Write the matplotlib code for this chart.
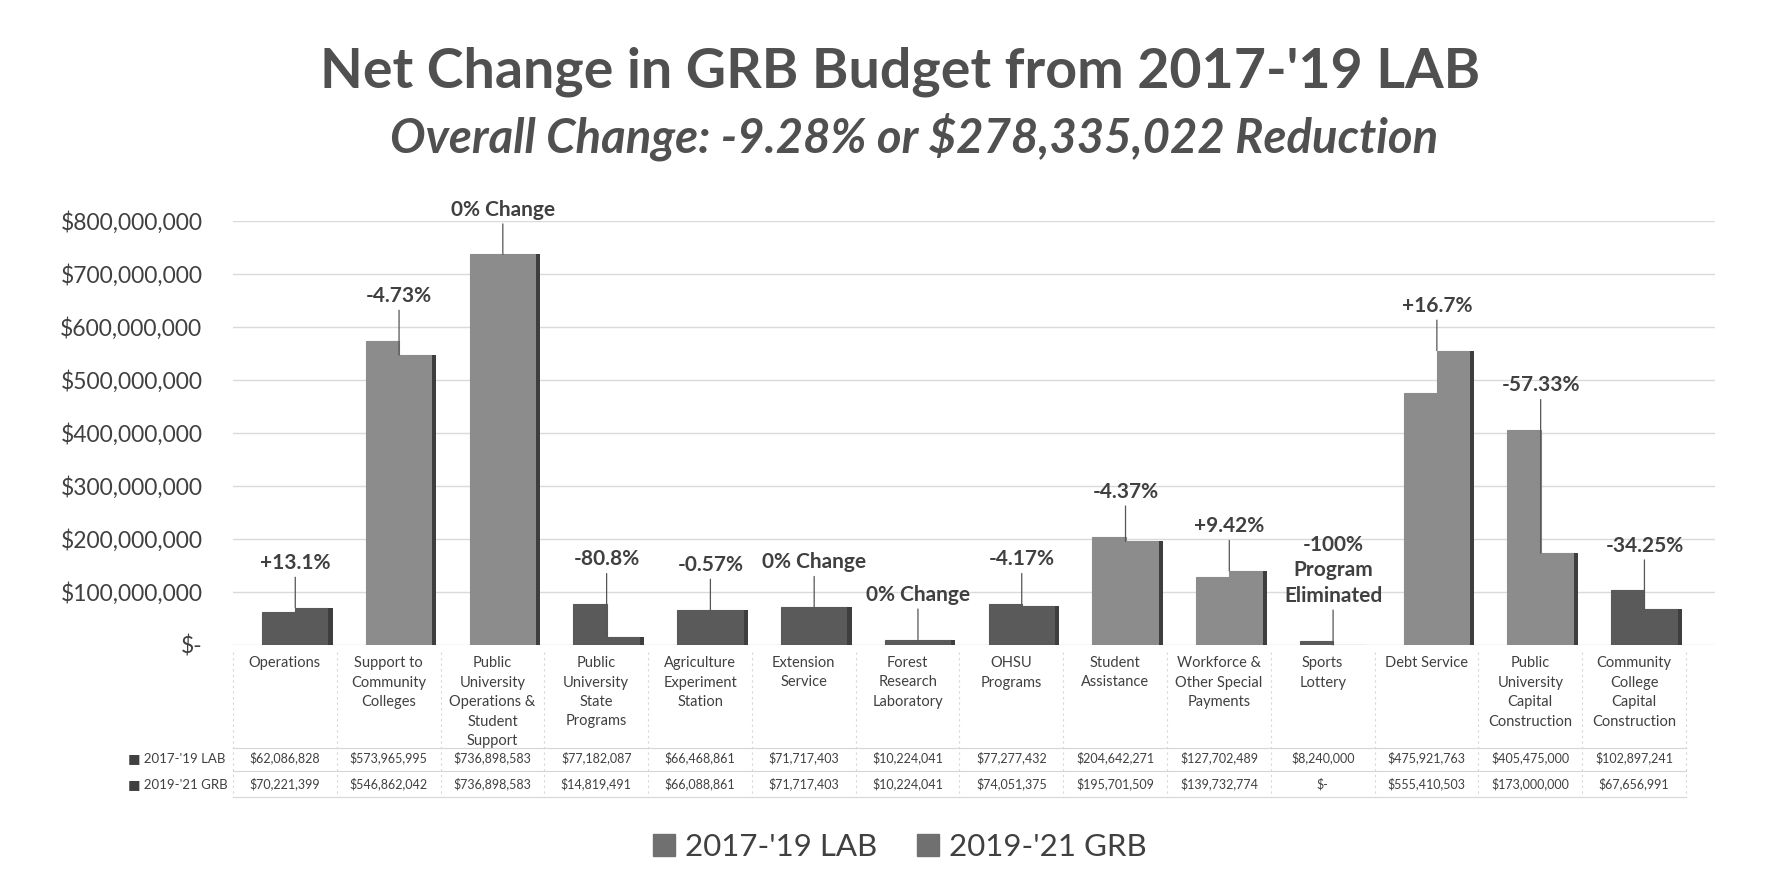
import matplotlib
matplotlib.use("Agg")
import matplotlib.pyplot as plt
import matplotlib.transforms as mtransforms
from matplotlib.patches import Patch
import numpy as np

plt.rcParams['font.family'] = ['Lato', 'DejaVu Sans']

categories = ["Operations", "Support to\nCommunity\nColleges",
              "Public\nUniversity\nOperations &\nStudent\nSupport",
              "Public\nUniversity\nState\nPrograms",
              "Agriculture\nExperiment\nStation", "Extension\nService",
              "Forest\nResearch\nLaboratory", "OHSU\nPrograms",
              "Student\nAssistance", "Workforce &\nOther Special\nPayments",
              "Sports\nLottery", "Debt Service",
              "Public\nUniversity\nCapital\nConstruction",
              "Community\nCollege\nCapital\nConstruction"]
lab_2017_19 = [62086828, 573965995, 736898583, 77182087, 66468861, 71717403,
               10224041, 77277432, 204642271, 127702489, 8240000, 475921763,
               405475000, 102897241]
grb_2019_21 = [70221399, 546862042, 736898583, 14819491, 66088861, 71717403,
               10224041, 74051375, 195701509, 139732774, 0, 555410503,
               173000000, 67656991]
change_labels = ["+13.1%", "-4.73%", "0% Change", "-80.8%", "-0.57%",
                 "0% Change", "0% Change", "-4.17%", "-4.37%", "+9.42%",
                 "-100%\nProgram\nEliminated", "+16.7%", "-57.33%", "-34.25%"]
series_names = ["2017-'19 LAB", "2019-'21 GRB"]
yticks = [0, 100e6, 200e6, 300e6, 400e6, 500e6, 600e6, 700e6, 800e6]

# light vs dark shading of each category, as in the scan
LIGHT, DARK = "#8c8c8c", "#5a5a5a"
shade = [DARK, LIGHT, LIGHT, DARK, DARK, DARK, DARK, DARK, LIGHT, LIGHT,
         DARK, LIGHT, LIGHT, DARK]
TXT = "#404040"


def money(v):
    return "$-" if v == 0 else "${:,.0f}".format(v)


W, H = 1775, 891
fig = plt.figure(figsize=(W / 100, H / 100), dpi=100)
ax = fig.add_axes([233 / W, 1 - 645 / H, (1715 - 233) / W, 424 / H])

x = np.arange(len(categories))
bw = 0.32
shift = 0.1
for i in x:
    for k, vals in enumerate([lab_2017_19, grb_2019_21]):
        ax.bar(i + shift + (k - 0.5) * bw, vals[i], width=bw, color=shade[i],
               edgecolor=shade[i], linewidth=0.8, zorder=3)
    # thin darker side for a touch of depth
    ax.bar(i + shift + bw, grb_2019_21[i], width=0.04, align="edge",
           color="#3e3e3e", zorder=3)

ax.set_xlim(-0.5, 13.78)
ax.set_ylim(0, 800e6)
ax.set_yticks(yticks)
ax.set_yticklabels([money(v) for v in yticks], fontsize=16.5, color=TXT)
ax.tick_params(axis="y", length=0, pad=22)
ax.set_xticks([])
ax.grid(axis="y", color="#dadada", linewidth=1, zorder=0)
for s in ax.spines.values():
    s.set_visible(False)

# change annotations with leader lines
for i in x:
    top = max(lab_2017_19[i], grb_2019_21[i])
    ax.annotate(change_labels[i], xy=(i + shift, grb_2019_21[i]),
                xytext=(i + shift, top),
                textcoords=mtransforms.offset_copy(ax.transData, fig=fig, y=25, units="points"),
                ha="center", va="bottom", fontsize=15, fontweight="bold",
                color=TXT, linespacing=1.35,
                arrowprops=dict(arrowstyle="-", color="#555555", lw=0.9,
                                shrinkA=1, shrinkB=0), zorder=5)

# data table under the chart
tr = mtransforms.blended_transform_factory(ax.transData, fig.transFigure)
fy = lambda px: 1 - px / H
for i in x:
    ax.text(i, fy(656), categories[i], transform=tr, ha="center", va="top",
            fontsize=10.5, color=TXT, linespacing=1.5)
    ax.text(i, fy(758), money(lab_2017_19[i]), transform=tr, ha="center",
            va="center", fontsize=9, color=TXT)
    ax.text(i, fy(784), money(grb_2019_21[i]), transform=tr, ha="center",
            va="center", fontsize=9, color=TXT)
for k, name in enumerate(series_names):
    fig.text(128 / W, fy(758 + 26 * k), "\u25a0 " + name, ha="left",
             va="center", fontsize=9.5, color=TXT)
line_kw = dict(color="#d6d6d6", linewidth=0.8, transform=tr, clip_on=False)
for yy in (748, 771, 797):
    ax.plot([-0.5, 13.5], [fy(yy), fy(yy)], **line_kw)
    fig.lines.append(plt.Line2D([125 / W, 233 / W], [fy(yy), fy(yy)],
                                color="#d6d6d6", linewidth=0.8))
for b in np.arange(-0.5, 14, 1):
    ax.plot([b, b], [fy(652), fy(797)], linestyle=(0, (2, 3)), **line_kw)

# titles
fig.text(0.507, fy(72), "Net Change in GRB Budget from 2017-'19 LAB",
         ha="center", va="center", fontsize=40, fontweight="bold", color="#505050")
fig.text(0.515, fy(137), "Overall Change: -9.28% or $278,335,022 Reduction",
         ha="center", va="center", fontsize=34, fontweight="bold",
         fontstyle="italic", color="#505050")

handles = [Patch(color="#707070", label=n) for n in series_names]
fig.legend(handles=handles, loc="center", bbox_to_anchor=(0.507, fy(847)),
           ncol=2, frameon=False, fontsize=22.5, handlelength=0.7,
           handleheight=0.7, handletextpad=0.3, columnspacing=1.3,
           labelcolor=TXT)

fig.savefig("out.png", dpi=100)
